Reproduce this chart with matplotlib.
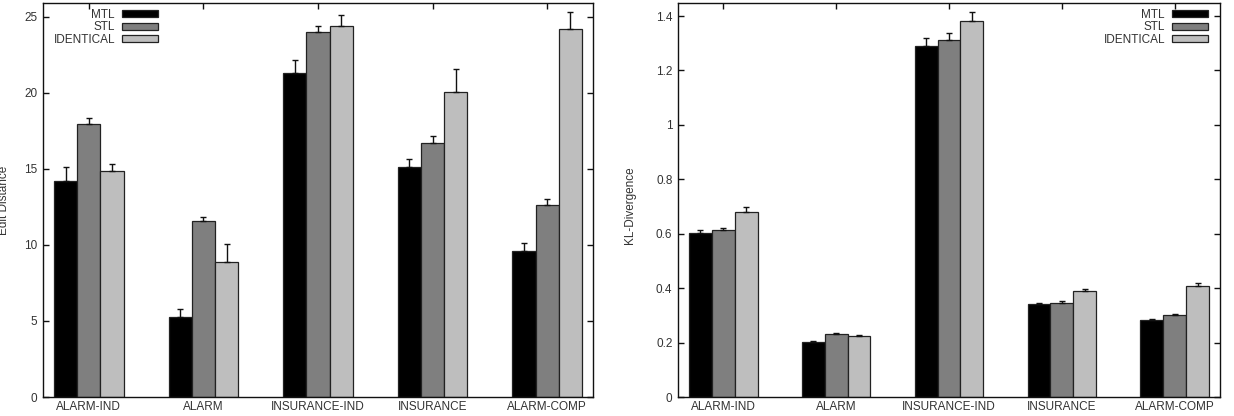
import matplotlib
matplotlib.use("Agg")
import matplotlib.pyplot as plt
import numpy as np

plt.rcParams['font.family'] = ['Liberation Sans', 'DejaVu Sans']

categories = ["ALARM-IND", "ALARM", "INSURANCE-IND", "INSURANCE", "ALARM-COMP"]
series = ["MTL", "STL", "IDENTICAL"]

edit_mtl = [14.24, 5.27, 21.34, 15.16, 9.63]
edit_stl = [17.98, 11.56, 24.04, 16.73, 12.64]
edit_ident = [14.90, 8.90, 24.42, 20.09, 24.22]
edit_mtl_err = [0.88, 0.55, 0.81, 0.49, 0.50]
edit_stl_err = [0.35, 0.31, 0.36, 0.47, 0.41]
edit_ident_err = [0.44, 1.17, 0.72, 1.47, 1.10]

kl_mtl = [0.601, 0.2035, 1.290, 0.340, 0.282]
kl_stl = [0.612, 0.233, 1.313, 0.347, 0.303]
kl_ident = [0.679, 0.223, 1.382, 0.391, 0.409]
kl_mtl_err = [0.012, 0.004, 0.030, 0.006, 0.004]
kl_stl_err = [0.008, 0.004, 0.023, 0.005, 0.003]
kl_ident_err = [0.020, 0.006, 0.033, 0.006, 0.010]

colors = ["#000000", "#7f7f7f", "#bebebe"]
text_color = "#333333"
FS = 8.5

fig = plt.figure(figsize=(12.34, 4.16), dpi=100)
W, H = 1234, 416

def make_axes(x0, x1, y0, y1):
    return fig.add_axes([x0 / W, 1 - y1 / H, (x1 - x0) / W, (y1 - y0) / H])

ax1 = make_axes(43, 593, 3, 397)
ax2 = make_axes(678, 1220, 3, 397)

def draw(ax, vals, errs, ylim, yticks, yticklabels, anchor):
    x = np.arange(len(categories))
    w = 0.203
    handles = []
    for i, (v, e) in enumerate(zip(vals, errs)):
        pos = x + (i - 1) * w
        b = ax.bar(pos, v, width=w, color=colors[i], edgecolor="#222222",
                   linewidth=0.9, label=series[i], zorder=2)
        ax.errorbar(pos, v, yerr=[np.zeros(len(e)), e], fmt='none',
                    ecolor="#111111", elinewidth=1.0, capsize=2.3,
                    capthick=1.0, zorder=3)
        handles.append(b)
    ax.set_xlim(-0.4, 4.4)
    ax.set_ylim(*ylim)
    ax.set_xticks(x)
    ax.set_xticklabels(categories)
    ax.set_yticks(yticks)
    ax.set_yticklabels(yticklabels)
    ax.tick_params(axis='both', direction='in', length=4, width=1,
                   top=True, right=True, labelsize=FS, colors="#111111",
                   labelcolor=text_color, pad=4)
    ax.tick_params(axis='x', pad=3)
    for s in ax.spines.values():
        s.set_linewidth(1.0)
        s.set_color("#111111")
    leg = ax.legend(handles, series, loc='upper right', bbox_to_anchor=anchor,
                    frameon=False, fontsize=FS, markerfirst=False,
                    handlelength=3.05, handleheight=0.5, labelspacing=0.03,
                    handletextpad=0.6, borderaxespad=0.0, borderpad=0.0,
                    labelcolor=text_color)
    for t in leg.get_texts():
        t.set_ha('right')
    return ax

draw(ax1, [edit_mtl, edit_stl, edit_ident],
     [edit_mtl_err, edit_stl_err, edit_ident_err],
     (0, 25.92), [0, 5, 10, 15, 20, 25], ["0", "5", "10", "15", "20", "25"],
     ((158 - 43) / 550, 1 - 6 / 394))
draw(ax2, [kl_mtl, kl_stl, kl_ident],
     [kl_mtl_err, kl_stl_err, kl_ident_err],
     (0, 1.448), [0, 0.2, 0.4, 0.6, 0.8, 1.0, 1.2, 1.4],
     ["0", "0.2", "0.4", "0.6", "0.8", "1", "1.2", "1.4"],
     ((1208 - 678) / 542, 1 - 6 / 394))

fig.text(4 / W, 1 - 200 / H, "Edit Distance", rotation=90, ha='center',
         va='center', fontsize=FS, color=text_color)
fig.text(630 / W, 1 - 205 / H, "KL-Divergence", rotation=90, ha='center',
         va='center', fontsize=FS, color=text_color)

fig.savefig("out.png", dpi=100)
